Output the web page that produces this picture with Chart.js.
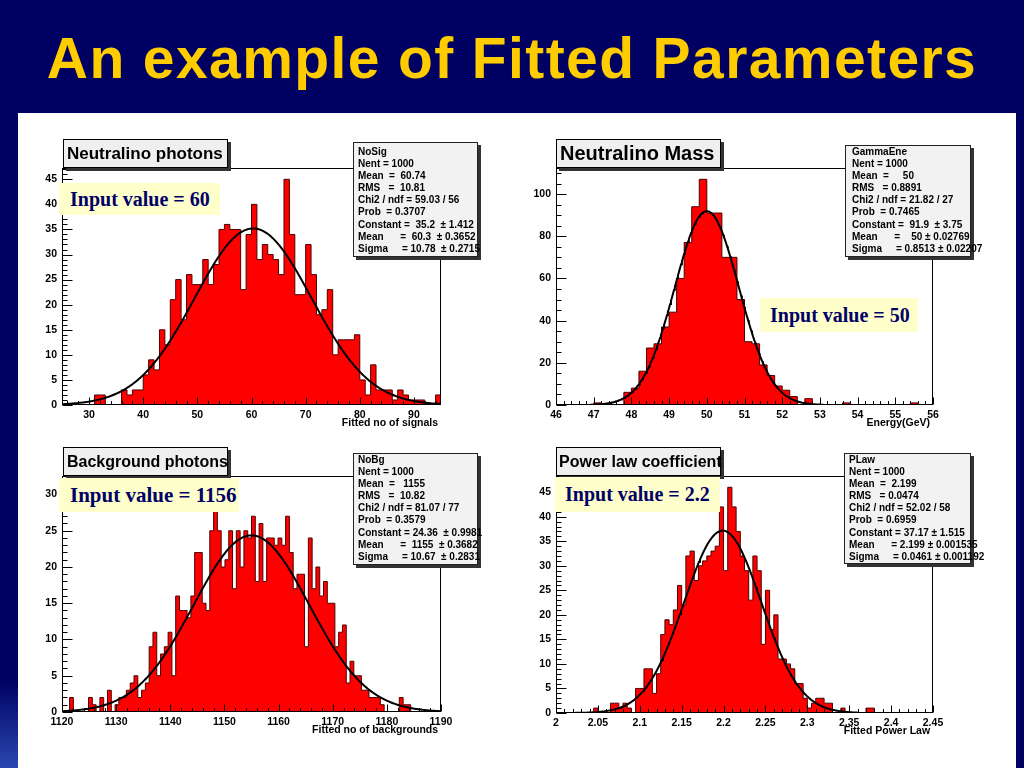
<!DOCTYPE html>
<html>
<head>
<meta charset="utf-8">
<script src="https://cdn.jsdelivr.net/npm/chart.js@4.4.0/dist/chart.umd.min.js"></script>
<style>
  html, body { margin: 0; padding: 0; }
  body { width: 1024px; height: 768px; background: #000062; position: relative; overflow: hidden;
         font-family: "Liberation Sans", Arial, sans-serif; }
  #slideTitle { position: absolute; left: 0; top: 30px; width: 1024px; text-align: center; color: #ffcc00;
                font-weight: bold; font-size: 57px; line-height: 57px; letter-spacing: 1.4px; }
  #edge { position: absolute; left: 0; top: 680px; width: 18px; height: 88px;
          background: linear-gradient(#000062, #2a48b0); }
  #sheet { position: absolute; left: 18px; top: 113px; width: 998px; height: 655px; background: #fff; }
  canvas { position: absolute; }
  .hbox { position: absolute; box-sizing: border-box; height: 29px; width: 165px; background: #efefef;
          border: 1px solid #000; box-shadow: 3px 3px 0 #333; font-weight: bold; color: #000;
          line-height: 27px; padding-left: 3px; white-space: nowrap; }
  .stats { position: absolute; box-sizing: border-box; background: #f2f2f2; border: 1px solid #222;
           box-shadow: 3px 3px 0 #333; font-weight: bold; font-size: 10px; line-height: 12.1px;
           padding-left: 4px; white-space: pre; color: #000; overflow: visible; }
  .inp { position: absolute; background: #ffffcc; color: #000066; font-family: "Liberation Serif", "Times New Roman", serif;
         font-weight: bold; font-size: 20px; white-space: nowrap; box-sizing: border-box; }
</style>
</head>
<body>
<div id="slideTitle">An example of Fitted Parameters</div>
<div id="edge"></div>
<div id="sheet"></div>

<canvas id="cNsig" width="470" height="325" style="left:20px;top:118px"></canvas>
<canvas id="cMass" width="470" height="325" style="left:510px;top:118px"></canvas>
<canvas id="cNbg" width="470" height="320" style="left:20px;top:430px"></canvas>
<canvas id="cPlaw" width="470" height="321" style="left:510px;top:430px"></canvas>

<div class="hbox" style="left:63px;top:139px;font-size:17px">Neutralino photons</div>
<div class="hbox" style="left:556px;top:139px;font-size:20px">Neutralino Mass</div>
<div class="hbox" style="left:63px;top:447px;font-size:16px">Background photons</div>
<div class="hbox" style="left:556px;top:447px;font-size:16px;padding-left:2px">Power law coefficient</div>

<div class="stats" style="left:353px;top:142px;width:125px;height:115px;padding-top:3px">NoSig
Nent = 1000
Mean  =  60.74
RMS   =  10.81
Chi2 / ndf = 59.03 / 56
Prob  = 0.3707
Constant =  35.2  ± 1.412
Mean      =  60.3  ± 0.3652
Sigma     = 10.78  ± 0.2715</div>
<div class="stats" style="left:845px;top:145px;width:126px;height:112px;padding-top:0px;padding-left:6px">GammaEne
Nent = 1000
Mean  =     50
RMS   = 0.8891
Chi2 / ndf = 21.82 / 27
Prob  = 0.7465
Constant =  91.9  ± 3.75
Mean      =    50 ± 0.02769
Sigma     = 0.8513 ± 0.02207</div>
<div class="stats" style="left:353px;top:453px;width:125px;height:112px;padding-top:0px">NoBg
Nent = 1000
Mean  =   1155
RMS   =  10.82
Chi2 / ndf = 81.07 / 77
Prob  = 0.3579
Constant = 24.36  ± 0.9981
Mean      =  1155  ± 0.3682
Sigma     = 10.67  ± 0.2831</div>
<div class="stats" style="left:844px;top:453px;width:127px;height:111px;padding-top:0px">PLaw
Nent = 1000
Mean  =  2.199
RMS   = 0.0474
Chi2 / ndf = 52.02 / 58
Prob  = 0.6959
Constant = 37.17 ± 1.515
Mean      = 2.199 ± 0.001535
Sigma     = 0.0461 ± 0.001192</div>

<div class="inp" style="left:59px;top:183px;width:161px;height:32px;line-height:32px;padding-left:11px">Input value = 60</div>
<div class="inp" style="left:760px;top:298px;width:158px;height:34px;line-height:34px;padding-left:10px">Input value = 50</div>
<div class="inp" style="left:59px;top:478px;width:180px;height:34px;line-height:34px;padding-left:11px;font-size:21px">Input value = 1156</div>
<div class="inp" style="left:555px;top:477px;width:165px;height:35px;line-height:35px;padding-left:10px">Input value = 2.2</div>

<script>
// ---- data ----
// Neutralino photons: 70 bins of width 1 from 25
const nsigRange = [25, 95];
const nsigCounts = [0, 0, 0, 0, 0, 0, 2, 2, 0, 0,
                    0, 3, 2, 3, 3, 6, 9, 7, 15, 12,
                    21, 25, 17, 26, 24, 24, 29, 24, 28, 35,
                    36, 35, 35, 23, 34, 40, 29, 32, 30, 29,
                    26, 45, 34, 22, 22, 32, 26, 18, 19, 23,
                    10, 13, 13, 13, 14, 5, 2, 8, 3, 3,
                    3, 1, 3, 2, 1, 1, 1, 0, 0, 2];
const nsigFit = [35.2, 60.3, 10.78];   // constant, mean, sigma
const nsigXTicks = [30, 40, 50, 60, 70, 80, 90];
const nsigYTicks = [0, 5, 10, 15, 20, 25, 30, 35, 40, 45];

// Neutralino mass: 50 bins of width 0.2 from 46
const massRange = [46, 56];
const massCounts = [0, 0, 0, 0, 0, 1, 0, 0, 0, 6,
                    8, 16, 27, 29, 37, 44, 60, 77, 94, 107,
                    91, 91, 70, 70, 50, 30, 29, 19, 14, 9,
                    7, 4, 0, 3, 0, 0, 0, 0, 1, 0,
                    0, 0, 0, 0, 0, 0, 0, 1, 0, 0];
const massFit = [91.9, 50, 0.8513];
const massXTicks = [46, 47, 48, 49, 50, 51, 52, 53, 54, 55, 56];
const massYTicks = [0, 20, 40, 60, 80, 100];

// Background photons: 100 bins of width 0.7 from 1120
const nbgRange = [1120, 1190];
const nbgCounts = [0, 0, 2, 0, 0, 0, 0, 2, 1, 0,
                   2, 0, 3, 0, 1, 2, 2, 3, 4, 5,
                   2, 3, 4, 9, 11, 5, 8, 9, 11, 5,
                   16, 14, 14, 13, 16, 22, 22, 15, 14, 25,
                   31, 25, 20, 21, 25, 17, 25, 20, 25, 24,
                   27, 18, 26, 18, 24, 24, 23, 24, 23, 27,
                   22, 17, 19, 19, 9, 24, 17, 20, 16, 18,
                   15, 15, 9, 11, 12, 4, 7, 5, 5, 3,
                   3, 2, 2, 2, 1, 0, 0, 0, 0, 2,
                   1, 1, 0, 0, 0, 0, 0, 0, 0, 0];
const nbgFit = [24.36, 1155, 10.67];
const nbgXTicks = [1120, 1130, 1140, 1150, 1160, 1170, 1180, 1190];
const nbgYTicks = [0, 5, 10, 15, 20, 25, 30];

// Power law coefficient: 90 bins of width 0.005 from 2
const plawRange = [2, 2.45];
const plawCounts = [0, 0, 0, 0, 0, 0, 0, 0, 0, 1,
                    0, 0, 0, 2, 2, 1, 2, 1, 0, 5,
                    5, 9, 9, 4, 8, 16, 19, 18, 21, 26,
                    22, 32, 33, 27, 30, 31, 32, 33, 34, 42,
                    29, 46, 42, 37, 32, 29, 23, 32, 29, 14,
                    25, 17, 20, 11, 11, 10, 9, 6, 6, 3,
                    1, 2, 3, 3, 2, 2, 0, 0, 1, 0,
                    0, 0, 0, 0, 1, 1, 0, 0, 0, 0,
                    0, 0, 0, 0, 0, 0, 0, 0, 0, 0];
const plawFit = [37.17, 2.199, 0.0461];
const plawXTicks = [2, 2.05, 2.1, 2.15, 2.2, 2.25, 2.3, 2.35, 2.4, 2.45];
const plawYTicks = [0, 5, 10, 15, 20, 25, 30, 35, 40, 45];

// ---- helpers ----
function histPoints(range, counts) {
  const w = (range[1] - range[0]) / counts.length;
  const pts = counts.map((c, i) => ({ x: range[0] + i * w, y: c }));
  pts.push({ x: range[1], y: counts[counts.length - 1] });
  pts.push({ x: range[1], y: 0 });
  return pts;
}

// gaussian drawn from the fit parameters printed in the stats box
function fitPoints(fit, range) {
  const [c, m, s] = fit;
  const pts = [];
  const n = 300;
  for (let k = 0; k <= n; k++) {
    const x = range[0] + (range[1] - range[0]) * k / n;
    pts.push({ x: x, y: c * Math.exp(-0.5 * ((x - m) / s) ** 2) });
  }
  return pts;
}

// ROOT style frame with ticks pointing into the pad
const rootFrame = {
  id: 'rootFrame',
  afterDatasetsDraw(chart, args, o) {
    const { ctx, chartArea: a, scales: { x, y } } = chart;
    const L = Math.round(a.left) + 0.5, R = Math.round(a.right) - 0.5;
    const T = Math.round(a.top) + 0.5, B = Math.round(a.bottom) - 0.5;
    ctx.save();
    ctx.strokeStyle = '#000';
    ctx.lineWidth = 1;
    ctx.strokeRect(L, T, R - L, B - T);
    ctx.beginPath();
    const isMajor = (v, ticks, step) => ticks.some(t => Math.abs(t - v) < step / 10);
    let k0 = Math.ceil(x.min / o.xMinor - 1e-6), k1 = Math.floor(x.max / o.xMinor + 1e-6);
    for (let k = k0; k <= k1; k++) {
      const v = k * o.xMinor;
      const px = Math.round(x.getPixelForValue(v)) + 0.5;
      const len = isMajor(v, o.xTicks, o.xMinor) ? 7 : 3.5;
      ctx.moveTo(px, B);
      ctx.lineTo(px, B - len);
    }
    k0 = Math.ceil(y.min / o.yMinor - 1e-6); k1 = Math.floor(y.max / o.yMinor + 1e-6);
    for (let k = k0; k <= k1; k++) {
      const v = k * o.yMinor;
      const py = Math.round(y.getPixelForValue(v)) + 0.5;
      const len = isMajor(v, o.yTicks, o.yMinor) ? 10 : 5;
      ctx.moveTo(L, py);
      ctx.lineTo(L + len, py);
    }
    ctx.stroke();
    ctx.restore();
  }
};

const labelFont = { family: '"Liberation Sans", Arial, sans-serif', size: 10.5, weight: 'bold' };

function drawPanel(id, p) {
  const ymax = Math.max(...p.counts) * 1.05;
  new Chart(document.getElementById(id), {
    type: 'line',
    data: {
      datasets: [
        { data: fitPoints(p.fit, p.fitRange), borderColor: '#000', borderWidth: 2,
          pointRadius: 0, fill: false, tension: 0, order: 0 },
        { data: histPoints(p.range, p.counts), stepped: 'before', borderColor: '#4d0000',
          borderWidth: 1, backgroundColor: '#ff0000', fill: 'origin', pointRadius: 0, order: 1 }
      ]
    },
    options: {
      responsive: false,
      animation: false,
      events: [],
      layout: { padding: { top: p.padTop, right: p.padRight, left: 0, bottom: 0 } },
      plugins: {
        legend: { display: false },
        tooltip: { enabled: false },
        rootFrame: { xMinor: p.xMinor, yMinor: p.yMinor, xTicks: p.xTicks, yTicks: p.yTicks }
      },
      scales: {
        x: {
          type: 'linear',
          min: p.range[0],
          max: p.range[1],
          grid: { display: false, drawTicks: false },
          border: { display: false },
          ticks: { autoSkip: false, maxRotation: 0, padding: 4, color: '#000', font: labelFont,
                   callback: v => String(+v.toFixed(3)) },
          afterBuildTicks: s => { s.ticks = p.xTicks.map(v => ({ value: v })); },
          afterFit: s => { s.height = 38; },
          title: { display: true, text: p.xTitle + '\u00a0', align: 'end', color: '#000',
                   font: { family: labelFont.family, size: 10.5, weight: 'bold' },
                   padding: { top: 0, bottom: 14 } }
        },
        y: {
          min: 0,
          max: ymax,
          grid: { display: false, drawTicks: false },
          border: { display: false },
          ticks: { padding: 5, color: '#000', font: labelFont, callback: v => String(v) },
          afterBuildTicks: s => { s.ticks = p.yTicks.map(v => ({ value: v })); },
          afterFit: s => { s.width = p.yWidth; }
        }
      }
    },
    plugins: [rootFrame]
  });
}

drawPanel('cNsig', { range: nsigRange, counts: nsigCounts, fit: nsigFit, fitRange: [25, 95],
  xTicks: nsigXTicks, yTicks: nsigYTicks, xMinor: 2, yMinor: 1, xTitle: 'Fitted no of signals',
  padTop: 50, padRight: 49, yWidth: 42 });
drawPanel('cMass', { range: massRange, counts: massCounts, fit: massFit, fitRange: [46.9, 53.1],
  xTicks: massXTicks, yTicks: massYTicks, xMinor: 0.2, yMinor: 5, xTitle: 'Energy(GeV)',
  padTop: 50, padRight: 47, yWidth: 46 });
drawPanel('cNbg', { range: nbgRange, counts: nbgCounts, fit: nbgFit, fitRange: [1120, 1190],
  xTicks: nbgXTicks, yTicks: nbgYTicks, xMinor: 2, yMinor: 1, xTitle: 'Fitted no of backgrounds',
  padTop: 46, padRight: 49, yWidth: 42 });
drawPanel('cPlaw', { range: plawRange, counts: plawCounts, fit: plawFit, fitRange: [2.02, 2.36],
  xTicks: plawXTicks, yTicks: plawYTicks, xMinor: 0.01, yMinor: 1, xTitle: 'Fitted Power Law',
  padTop: 46, padRight: 47, yWidth: 46 });
</script>
</body>
</html>
